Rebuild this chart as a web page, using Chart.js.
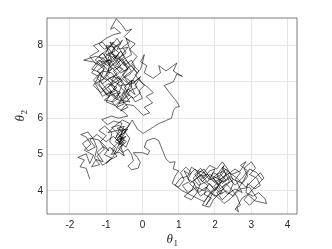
<!DOCTYPE html>
<html>
<head>
<meta charset="utf-8">
<script src="https://cdn.jsdelivr.net/npm/chart.js@4/dist/chart.umd.min.js"></script>
<style>
  html, body { margin: 0; padding: 0; background: #fff; }
  canvas { display: block; }
</style>
</head>
<body>
<canvas id="trace" width="332" height="249"></canvas>
<script>
var theta1 = [
  -1.45,-1.55,-1.72,-1.6,-1.78,-1.55,-1.45,-1.35,-1.6,-1.42,
  -1.55,-1.7,-1.5,-1.35,-1.25,-1.32,-1.18,-1.4,-1.28,-1.08,
  -1.25,-1.08,-0.92,-1.15,-1.0,-1.2,-1.04,-0.84,-0.9,-0.74,
  -0.86,-0.64,-0.5,-0.6,-0.44,-0.66,-0.54,-0.7,-0.5,-0.6,
  -0.75,-0.55,-0.7,-0.9,-1.05,-0.85,-1.0,-0.8,-0.6,-0.45,
  -0.65,-0.85,-0.7,-0.5,-0.65,-0.55,-0.4,-0.6,-0.75,-0.6,
  -0.8,-1.0,-1.25,-1.45,-1.3,-1.5,-1.65,-1.45,-1.2,-1.05,
  -1.25,-1.1,-0.9,-0.7,-0.85,-0.65,-0.45,-0.35,-0.55,-0.75,
  -0.95,-0.75,-0.55,-0.35,-0.5,-0.65,-0.5,-0.7,-0.55,-0.6,
  -0.45,-0.62,-0.72,-0.56,-0.8,-0.96,-1.12,-0.86,-0.66,-0.4,
  -0.55,-0.72,-0.6,-0.78,-0.9,-0.7,-0.95,-1.1,-0.9,-1.05,
  -0.8,-0.6,-0.5,-0.7,-0.55,-0.8,-1.0,-1.2,-1.05,-1.25,
  -1.1,-0.9,-0.95,-0.75,-0.6,-0.4,-0.55,-0.7,-0.9,-1.05,
  -1.3,-1.62,-1.35,-1.15,-0.95,-0.8,-0.65,-0.8,-0.6,-0.7,
  -0.85,-1.05,-1.2,-1.0,-0.8,-0.6,-0.78,-0.88,-0.72,-0.55,
  -0.45,-0.3,-0.5,-0.35,-0.55,-0.45,-0.65,-0.5,-0.3,-0.2,
  -0.35,-0.55,-0.4,-0.25,-0.15,-0.35,-0.5,-0.65,-0.45,-0.3,
  -0.2,0.0,-0.1,0.05,-0.1,-0.3,-0.6,-0.85,-0.7,-0.85,
  -1.0,-0.8,-0.6,-0.75,-0.55,-0.7,-0.9,-1.1,-1.25,-1.1,
  -0.85,-0.65,-0.8,-0.6,-0.75,-0.95,-0.8,-1.0,-0.9,-0.7,
  -0.85,-1.0,-0.75,-0.9,-0.65,-0.5,-0.7,-0.5,-0.3,-0.15,
  -0.45,-0.7,-0.95,-0.75,-1.0,-0.85,-1.15,-0.9,-1.15,-0.95,
  -0.7,-0.55,-0.8,-0.6,-0.85,-0.55,-0.7,-0.4,-0.6,-0.85,
  -1.1,-1.3,-1.05,-1.2,-1.0,-0.75,-0.9,-0.65,-0.45,-0.6,
  -0.35,-0.5,-0.3,-0.55,-0.35,-0.6,-0.75,-0.95,-0.8,-1.05,
  -0.85,-1.05,-0.8,-0.65,-0.85,-0.7,-0.5,-0.7,-0.95,-1.15,
  -1.35,-1.15,-1.4,-1.2,-0.95,-0.7,-0.5,-0.3,-0.5,-0.25,
  -0.05,-0.2,-0.05,-0.25,-0.45,-0.3,-0.1,-0.3,-0.15,-0.35,
  -0.2,-0.45,-0.3,-0.55,-0.4,-0.65,-0.9,-1.15,-1.35,-1.2,
  -1.4,-1.25,-1.45,-1.2,-1.35,-1.1,-0.95,-1.2,-1.0,-1.25,
  -1.05,-1.3,-1.1,-0.85,-1.0,-0.75,-0.55,-0.4,-0.2,-0.3,
  -0.3,-0.5,-0.35,-0.55,-0.4,-0.6,-0.45,-0.25,-0.1,0.02,
  0.2,0.05,0.28,0.1,0.3,0.15,-0.05,-0.2,-0.05,0.02,
  0.05,-0.05,0.12,0.05,0.3,0.5,0.45,0.65,0.95,0.85,
  1.1,0.95,0.85,0.6,0.75,0.95,1.02,0.92,0.86,0.8,
  0.45,0.02,-0.14,-0.28,-0.4,-0.55,-0.62,-0.5,-0.66,-0.55,
  -0.4,-0.3,-0.25,-0.4,-0.3,-0.12,-0.06,-0.14,-0.25,0.0,
  0.15,0.2,0.05,0.12,0.32,0.45,0.55,0.65,0.75,0.9,
  0.85,1.0,0.9,0.82,1.0,1.15,1.05,1.2,1.35,1.25,
  1.45,1.35,1.15,1.35,1.5,1.6,1.45,1.6,1.75,1.6,
  1.8,1.7,1.9,1.75,1.95,2.1,1.95,2.1,2.25,2.15,
  2.3,2.1,2.25,2.05,2.2,2.4,2.5,2.35,2.55,2.7,
  2.55,2.75,2.9,2.8,3.0,3.12,2.95,3.15,3.25,3.1,
  2.9,2.85,3.05,3.2,3.38,3.42,3.1,2.9,2.75,2.6,
  2.65,2.55,2.7,2.6,2.45,2.3,2.15,2.05,1.9,2.0,
  1.85,1.7,1.55,1.4,1.55,1.75,1.95,2.15,2.3,2.2,
  2.35,2.25,2.05,2.2,2.0,1.8,1.6,1.45,1.3,1.5,
  1.7,1.85,2.1,2.2,2.4,2.55,2.75,2.9,2.7,2.85,
  2.7,2.45,2.3,2.15,1.95,1.8,1.6,1.45,1.3,1.15,
  1.3,1.1,1.25,1.5,1.7,1.85,2.0,2.15,2.05,2.25,
  2.4,2.2,2.35,2.55,2.75,2.6,2.4,2.25,2.05,1.85,
  1.65,1.5,1.7,1.9,2.1,1.9,1.75,1.55,1.4,1.55,
  1.8,2.0,2.2,2.4,2.6,2.85,3.05,3.25,3.35,3.2,
  3.0,2.8,2.95,3.15,2.95,2.7,2.5,2.3,2.15,2.0,
  1.8,1.65,1.85,1.95,2.15,2.3,2.5,2.35,2.2,2.05,
  1.85,1.7,1.5,1.35,1.25,1.05,0.9,1.1,1.3,1.5,
  1.7,1.9,2.1,2.25,2.45,2.6,2.8,2.95,3.15,3.3
];
var theta2 = [
  4.32,4.62,4.66,4.85,4.92,5.02,4.75,4.98,5.12,5.28,
  5.48,5.55,5.62,5.42,5.18,4.9,4.72,4.66,4.86,4.8,
  5.06,5.22,5.1,5.36,5.52,5.66,5.78,5.6,5.34,5.2,
  5.0,5.06,4.96,5.22,5.36,5.46,5.62,5.72,5.78,5.56,
  5.35,5.25,5.05,5.2,5.0,4.9,4.75,4.95,5.4,5.65,
  5.8,5.75,5.6,5.4,5.25,5.55,5.7,5.65,5.45,5.3,
  5.5,5.35,5.55,5.4,5.2,5.1,5.3,5.45,5.4,5.15,
  4.95,4.7,4.85,4.95,5.15,5.35,5.2,5.45,5.7,5.65,
  5.6,5.8,5.95,5.85,5.6,5.5,5.45,5.4,5.3,5.45,
  5.5,5.34,5.5,5.86,5.92,5.82,5.96,6.06,6.0,6.06,
  6.2,6.3,6.48,6.56,6.7,6.85,6.95,6.8,6.6,6.5,
  6.45,6.6,6.75,6.95,7.05,7.15,7.05,7.2,7.35,7.5,
  7.65,7.5,7.3,7.4,7.25,7.35,7.55,7.7,7.8,7.65,
  7.7,7.6,7.55,7.45,7.6,7.55,7.8,7.95,8.05,8.2,
  8.0,7.9,8.05,8.2,8.3,8.35,8.5,8.45,8.74,8.55,
  8.4,8.45,8.25,8.1,7.95,7.8,7.65,7.45,7.6,7.4,
  7.2,7.1,6.95,7.05,6.85,6.75,6.55,6.4,6.45,6.6,
  6.45,6.55,6.75,6.9,7.1,6.95,6.9,7.05,7.25,7.4,
  7.55,7.7,7.6,7.45,7.35,7.2,7.1,6.95,7.1,7.3,
  7.25,7.0,6.8,6.7,6.6,6.85,7.0,7.2,7.4,7.55,
  7.7,7.75,7.85,8.1,7.95,7.7,7.5,7.3,7.45,7.25,
  7.6,7.35,7.65,7.95,8.0,7.6,7.55,7.25,7.0,6.75,
  6.55,6.95,7.3,7.45,7.85,8.15,7.9,7.95,7.7,7.45,
  7.8,7.6,7.4,6.95,6.65,6.75,6.95,7.15,6.85,6.5,
  6.45,6.7,6.85,7.2,7.45,7.85,7.65,7.95,8.1,7.75,
  7.35,7.15,6.9,6.65,6.45,6.3,6.4,6.7,6.6,6.85,
  7.05,7.25,7.35,7.6,7.45,7.75,7.55,7.3,7.15,6.95,
  7.15,6.9,6.7,6.55,6.7,7.0,7.3,7.5,7.7,7.9,
  8.05,8.2,7.75,7.6,7.35,7.05,6.9,6.7,6.9,7.15,
  7.25,7.45,7.7,7.85,8.0,8.1,7.9,7.7,7.5,7.3,
  7.1,6.95,6.6,6.75,6.45,6.35,6.55,6.8,6.65,6.85,
  7.05,6.85,6.65,6.5,6.3,6.2,6.38,6.35,6.2,6.08,
  6.15,6.3,6.42,6.6,6.7,6.85,7.0,7.2,7.35,7.6,
  7.75,7.55,7.45,7.25,7.1,7.25,7.45,7.3,7.52,7.3,
  7.15,7.22,7.0,6.9,6.7,6.45,6.32,6.3,6.22,6.0,
  5.85,5.58,5.7,5.95,5.75,5.65,5.45,5.3,5.18,5.05,
  5.15,5.0,4.82,4.68,4.58,4.62,4.78,4.92,5.05,5.05,
  5.0,5.1,5.2,5.38,5.45,5.38,5.12,4.88,4.78,4.8,
  4.6,4.55,4.4,4.2,4.1,4.3,4.5,4.65,4.5,4.32,
  4.2,4.0,3.85,3.75,3.95,4.2,4.45,4.62,4.45,4.3,
  4.15,3.9,3.8,3.6,3.95,4.15,4.35,4.5,4.7,4.45,
  4.3,4.2,4.05,3.95,3.75,3.95,4.2,4.45,4.6,4.5,
  4.3,4.2,4.4,4.62,4.8,4.62,4.45,4.35,4.15,4.05,
  4.2,3.95,3.85,3.95,3.78,3.65,3.72,3.9,3.8,3.55,
  3.42,3.5,3.6,3.85,4.05,4.2,4.05,4.25,4.4,4.6,
  4.55,4.35,4.5,4.35,4.15,4.25,4.1,4.3,4.45,4.65,
  4.55,4.35,4.1,3.95,3.85,4.0,3.85,4.05,4.2,4.35,
  4.5,4.3,4.4,4.2,4.35,4.15,4.35,4.55,4.7,4.8,
  4.55,4.45,4.6,4.4,4.5,4.25,4.4,4.6,4.45,4.55,
  4.25,4.15,3.95,4.1,4.0,4.2,4.0,4.2,4.45,4.55,
  4.25,4.1,3.9,4.05,3.95,4.25,4.4,4.25,4.35,4.45,
  4.25,4.45,4.6,4.3,4.15,3.95,4.1,3.95,4.25,4.4,
  4.45,4.25,4.35,4.5,4.35,4.1,4.3,4.5,4.35,4.2,
  4.0,3.75,3.6,3.8,4.1,4.05,3.85,4.0,3.9,4.1,
  3.85,3.6,3.55,3.75,3.95,4.15,4.3,4.6,4.8,4.6,
  4.7,4.5,4.55,4.65,4.4,4.35,4.15,4.0,3.9,3.8,
  3.7,3.95,3.8,3.65,3.8,4.0,4.3,4.6,4.5,4.3
];
var xTicks = [-2, -1, 0, 1, 2, 3, 4];
var yTicks = [4, 5, 6, 7, 8];

var points = theta1.map(function (v, i) { return { x: v, y: theta2[i] }; });

// draws a symbol with a subscript (theta_1 style) centred at 0,0
function subLabel(ctx, sym, sub) {
  ctx.font = "italic 13px 'Liberation Serif'";
  var w1 = ctx.measureText(sym).width;
  ctx.font = "9px 'Liberation Serif'";
  var w2 = ctx.measureText(sub).width;
  var x0 = -(w1 + w2) / 2;
  ctx.textBaseline = "alphabetic";
  ctx.textAlign = "left";
  ctx.font = "italic 13px 'Liberation Serif'";
  ctx.fillText(sym, x0, 3);
  ctx.font = "9px 'Liberation Serif'";
  ctx.fillText(sub, x0 + w1 + 0.5, 6);
}

// box around the axes and the axis labels
var boxPlugin = {
  id: "box",
  afterDraw: function (chart) {
    var a = chart.chartArea, ctx = chart.ctx;
    ctx.save();
    ctx.strokeStyle = "#262626";
    ctx.lineWidth = 0.6;
    ctx.strokeRect(a.left, a.top, a.right - a.left, a.bottom - a.top);
    ctx.fillStyle = "#262626";
    ctx.save();
    ctx.translate((a.left + a.right) / 2, 240);
    subLabel(ctx, "θ", "1");
    ctx.restore();
    ctx.save();
    ctx.translate(21, (a.top + a.bottom) / 2);
    ctx.rotate(-Math.PI / 2);
    subLabel(ctx, "θ", "2");
    ctx.restore();
    ctx.restore();
  }
};

new Chart("trace", {
  type: "scatter",
  data: {
    datasets: [{
      data: points,
      showLine: true,
      borderColor: "#000",
      borderWidth: 0.6,
      pointRadius: 0,
      tension: 0
    }]
  },
  options: {
    responsive: false,
    animation: false,
    layout: { padding: { top: 18, right: 35, left: 0, bottom: 0 } },
    plugins: { legend: { display: false }, tooltip: { enabled: false } },
    scales: {
      x: {
        type: "linear",
        min: -2.63, max: 4.26,
        afterFit: function (s) { s.height = 35; },
        afterBuildTicks: function (s) { s.ticks = xTicks.map(function (v) { return { value: v }; }); },
        grid: { color: "#e6e6e6", drawTicks: false },
        border: { display: false },
        ticks: { color: "#262626", padding: 5, font: { family: "Liberation Sans", size: 10 } }
      },
      y: {
        type: "linear",
        min: 3.36, max: 8.76,
        afterFit: function (s) { s.width = 47; },
        afterBuildTicks: function (s) { s.ticks = yTicks.map(function (v) { return { value: v }; }); },
        grid: { color: "#e6e6e6", drawTicks: false },
        border: { display: false },
        ticks: { color: "#262626", padding: 4, font: { family: "Liberation Sans", size: 10 } }
      }
    }
  },
  plugins: [boxPlugin]
});
</script>
</body>
</html>
